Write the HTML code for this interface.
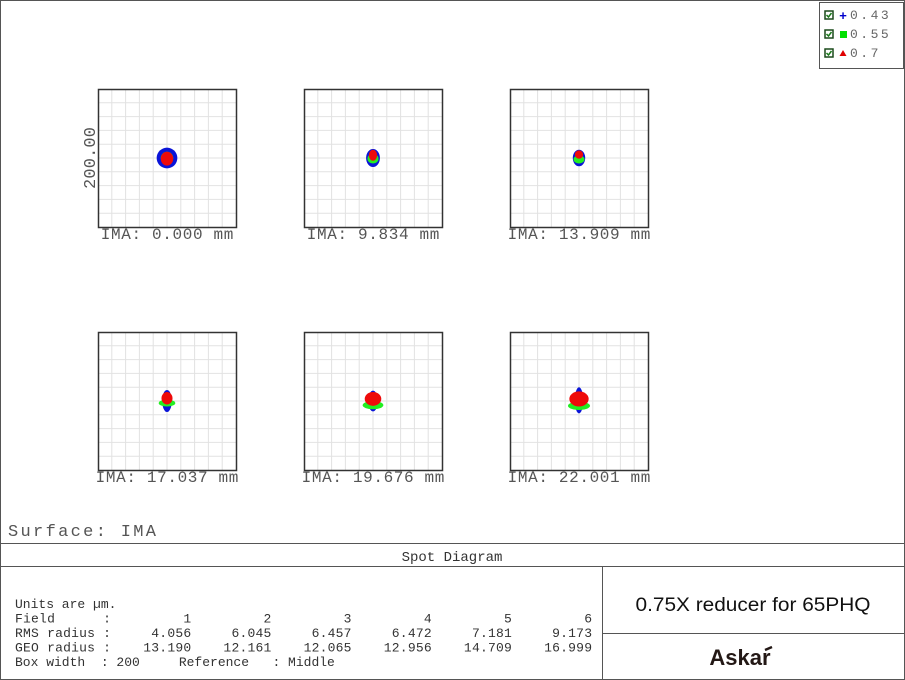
<!DOCTYPE html>
<html><head><meta charset="utf-8"><style>
body{margin:0;background:#fff}
svg{display:block;font-family:"Liberation Mono",monospace}
</style></head><body>
<svg width="905" height="680" viewBox="0 0 905 680">
<rect x="0.5" y="0.5" width="904" height="679" fill="#fff" stroke="#555"/>
<g id="plots"></g>
<g>
<rect x="819.5" y="2.5" width="84" height="66" fill="#fff" stroke="#555"/>
<g><rect x="825" y="11" width="8" height="8" fill="#fff" stroke="#1a4a1a" stroke-width="1.5"/><path d="M826.5 15l2 2 3-4" stroke="#1a7a1a" stroke-width="1.5" fill="none"/><text x="843" y="20" font-size="13" font-weight="bold" fill="#0000cc" text-anchor="middle" font-family="Liberation Sans">+</text><text x="850" y="19" font-size="13" fill="#666" letter-spacing="2.5">0.43</text></g>
<g><rect x="825" y="30" width="8" height="8" fill="#fff" stroke="#1a4a1a" stroke-width="1.5"/><path d="M826.5 34l2 2 3-4" stroke="#1a7a1a" stroke-width="1.5" fill="none"/><rect x="840" y="31" width="7" height="7" fill="#00e000"/><text x="850" y="38" font-size="13" fill="#666" letter-spacing="2.5">0.55</text></g>
<g><rect x="825" y="49" width="8" height="8" fill="#fff" stroke="#1a4a1a" stroke-width="1.5"/><path d="M826.5 53l2 2 3-4" stroke="#1a7a1a" stroke-width="1.5" fill="none"/><path d="M843 50l3.5 6h-7z" fill="#e00000"/><text x="850" y="57" font-size="13" fill="#666" letter-spacing="2.5">0.7</text></g>
</g>
<text x="8" y="536" font-size="17" fill="#555" textLength="148" lengthAdjust="spacing">Surface: IMA</text>
<line x1="0" y1="543.5" x2="905" y2="543.5" stroke="#555"/>
<text x="452" y="561" font-size="14" fill="#333" text-anchor="middle">Spot Diagram</text>
<line x1="0" y1="566.5" x2="905" y2="566.5" stroke="#555"/>
<line x1="602.5" y1="566" x2="602.5" y2="680" stroke="#555"/>
<line x1="602" y1="633.5" x2="905" y2="633.5" stroke="#555"/>
<text x="753" y="611" font-size="19" fill="#111" text-anchor="middle" font-family="Liberation Sans" textLength="235" lengthAdjust="spacingAndGlyphs">0.75X reducer for 65PHQ</text>
<text x="740" y="665" font-size="22" font-weight="bold" fill="#231815" text-anchor="middle" font-family="Liberation Sans">Askar</text>
<path d="M765 650l7-3" stroke="#231815" stroke-width="2.5"/>
<g id="table" font-size="13" fill="#333"></g>
</svg>
<script>
const fields = ["1","2","3","4","5","6"];
const imaLabels = ["0.000","9.834","13.909","17.037","19.676","22.001"];
const rmsRadius = ["4.056","6.045","6.457","6.472","7.181","9.173"];
const geoRadius = ["13.190","12.161","12.065","12.956","14.709","16.999"];
const boxWidthUm = 200;
// spot extents in µm: [rx, ry, dy] per field, per wavelength
const blueSpots = [[15,15,0],[10,13,0],[9,12,0],[7,16,0],[7,15,0],[6,19,-1]];
const greenSpots = [[9,9,0],[8,7,1],[8,6,2],[12,5,3],[15,6,6],[16,6,7]];
const redSpots = [[9,10,1],[6,8,-4],[6,6,-5],[8,9,-4],[12,10,-3],[14,11,-3]];

const NS="http://www.w3.org/2000/svg";
const plots=document.getElementById('plots');
const boxX=[98,304,510], boxY=[89,332], BW=138;
const sc=BW/boxWidthUm;
function mk(t,a,p){const e=document.createElementNS(NS,t);for(const k in a)e.setAttribute(k,a[k]);p.appendChild(e);return e;}
fields.forEach((f,i)=>{
  const x0=boxX[i%3], y0=boxY[Math.floor(i/3)];
  const g=mk('g',{},plots);
  
  
  for(let k=1;k<10;k++){
    const x=x0+k*BW/10, y=y0+k*BW/10;
    mk('line',{x1:x,y1:y0,x2:x,y2:y0+BW,stroke:'#e2e2e2'},g);
    mk('line',{x1:x0,y1:y,x2:x0+BW,y2:y,stroke:'#e2e2e2'},g);
  }
  mk('rect',{x:x0+0.5,y:y0+0.5,width:BW,height:BW,fill:'none',stroke:'#333','stroke-width':1.5},g);
  const cx=x0+BW/2, cy=y0+BW/2;
  const sets=[[blueSpots,'#0a14d8'],[greenSpots,'#22ee22'],[redSpots,'#ee0a0a']];
  sets.forEach(([arr,c])=>{
    const s=arr[i];
    const e=mk('ellipse',{cx:cx,cy:cy+s[2]*sc,rx:s[0]*sc,ry:s[1]*sc,fill:c},g);
    
    
  });
  const txt='IMA: '+imaLabels[i]+' mm';
  const t=mk('text',{x:cx,y:y0+BW+12,'font-size':16,fill:'#555','text-anchor':'middle',textLength:txt.length*10.2,lengthAdjust:'spacing'},g);
  t.textContent=txt;
  
  
  if(i===0){
    const yl=mk('text',{x:0,y:0,'font-size':17,fill:'#555','text-anchor':'middle',textLength:62,lengthAdjust:'spacing',transform:`translate(${x0-3},${cy}) rotate(-90)`},g);
    yl.textContent=boxWidthUm.toFixed(2);
    
    
  }
});
const tb=document.getElementById('table');
const pad=(s,w)=>s.padStart(w,' ');
const lines=["Units are µm.",
 "Field      :"+fields.map(v=>pad(v,10)).join(''),
 "RMS radius :"+rmsRadius.map(v=>pad(v,10)).join(''),
 "GEO radius :"+geoRadius.map(v=>pad(v,10)).join(''),
 "Box width  : "+boxWidthUm+"     Reference   : Middle"];
lines.forEach((l,i)=>{
  const t=mk('text',{x:15,y:608+i*14.5,'xml:space':'preserve'},tb);
  t.style.whiteSpace='pre';
  if(i>0&&i<4){t.setAttribute('textLength',577);t.setAttribute('lengthAdjust','spacing');}
  t.textContent=l;
  
  
});
</script>
</body></html>
